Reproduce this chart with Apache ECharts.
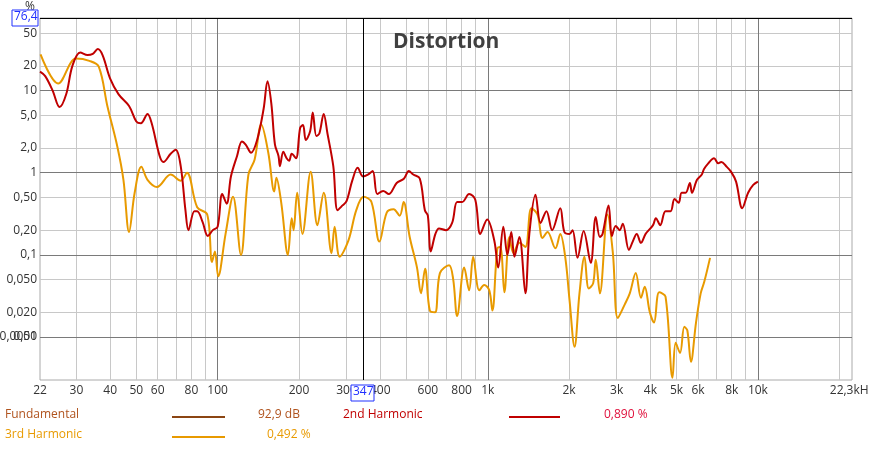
<!DOCTYPE html>
<html>
<head>
<meta charset="utf-8">
<title>Distortion</title>
<script src="https://cdn.jsdelivr.net/npm/echarts@6/dist/echarts.min.js"></script>
<style>
  html, body { margin: 0; padding: 0; background: #fff; }
  #main { width: 869px; height: 453px; }
</style>
</head>
<body>
<div id="main"></div>
<script>
// 2nd harmonic, [Hz, %]
var h2 = [[22,17],[23,15],[24.5,10],[26,6.3],[27.5,9],[29,20],[31,29],[33,27],[34.5,28],[36,32],[37.5,27],[40,14],[43,9],[47,6.5],[50,4.2],[52,4],[55,5.2],[57,4],[61,1.6],[63,1.35],[67,1.7],[70,1.9],[73,1.2],[76,0.35],[78,0.2],[82,0.34],[84,0.34],[88,0.25],[92,0.17],[96,0.2],[100,0.22],[104,0.55],[108,0.42],[112,0.9],[118,1.6],[123,2.4],[127,2.2],[133,1.75],[140,2.5],[148,6],[153,13],[158,7],[163,2.2],[168,1.6],[170,1.2],[175,1.8],[180,1.5],[184,1.4],[188,1.7],[195,1.5],[202,3.5],[207,3.8],[212,2.5],[220,3.2],[225,5.4],[232,2.8],[238,3],[247,5.2],[255,3],[268,1.2],[278,0.35],[290,0.4],[300,0.45],[315,0.8],[330,1.15],[345,0.9],[360,0.95],[375,1.05],[390,0.55],[410,0.6],[430,0.55],[460,0.75],[490,0.85],[510,1.05],[530,0.95],[560,0.85],[585,0.35],[600,0.3],[615,0.11],[640,0.18],[660,0.21],[700,0.2],[738,0.245],[770,0.44],[804,0.44],[853,0.55],[899,0.47],[938,0.18],[995,0.27],[1057,0.15],[1093,0.07],[1142,0.22],[1182,0.1],[1222,0.19],[1255,0.095],[1309,0.165],[1378,0.034],[1425,0.18],[1502,0.54],[1568,0.245],[1649,0.34],[1731,0.2],[1855,0.37],[1921,0.19],[2008,0.18],[2060,0.2],[2149,0.092],[2264,0.195],[2405,0.08],[2510,0.29],[2600,0.165],[2660,0.18],[2800,0.4],[2880,0.17],[2975,0.225],[3080,0.2],[3160,0.24],[3330,0.115],[3440,0.145],[3560,0.18],[3690,0.14],[3840,0.18],[4090,0.23],[4190,0.28],[4350,0.23],[4550,0.34],[4750,0.34],[4910,0.48],[5090,0.43],[5220,0.57],[5400,0.57],[5600,0.75],[5700,0.57],[5950,0.82],[6200,0.95],[6310,1.1],[6550,1.3],[6880,1.5],[7130,1.3],[7320,1.35],[7630,1.2],[7950,1.03],[8300,0.78],[8750,0.37],[9200,0.57],[9610,0.71],[10000,0.78]];

// 3rd harmonic, [Hz, %]
var h3 = [[22.1,27.5],[25.7,12.2],[29.9,24.5],[33.5,23],[36.3,19.5],[39.1,6.4],[42.5,2.1],[44.8,0.82],[47,0.19],[49.3,0.57],[52.2,1.18],[55,0.82],[59.6,0.67],[67,0.95],[73,0.8],[77,1.0],[84,0.38],[91.5,0.31],[95.3,0.082],[97.7,0.11],[100.5,0.055],[107,0.18],[114,0.51],[122,0.1],[130,0.95],[137,1.44],[145,3.85],[154,1.75],[162,0.59],[165,0.87],[172,0.43],[182,0.1],[188,0.28],[191,0.2],[197,0.57],[206,0.18],[221,1.03],[234,0.23],[247,0.57],[264,0.105],[271,0.22],[283,0.095],[305,0.15],[326,0.35],[347,0.51],[371,0.44],[397,0.145],[423,0.33],[448,0.36],[472,0.3],[488,0.44],[514,0.165],[547,0.07],[566,0.034],[586,0.068],[610,0.021],[638,0.02],[665,0.06],[719,0.075],[745,0.05],[770,0.018],[818,0.07],[853,0.037],[883,0.095],[930,0.037],[970,0.043],[1013,0.037],[1040,0.021],[1085,0.12],[1113,0.125],[1152,0.035],[1202,0.165],[1245,0.105],[1309,0.14],[1378,0.125],[1450,0.37],[1527,0.31],[1595,0.16],[1664,0.19],[1780,0.12],[1855,0.18],[1937,0.092],[2008,0.028],[2095,0.0076],[2185,0.034],[2280,0.095],[2365,0.039],[2455,0.045],[2510,0.087],[2600,0.034],[2775,0.31],[2905,0.105],[3030,0.017],[3215,0.025],[3355,0.034],[3530,0.06],[3690,0.03],[3810,0.041],[3980,0.02],[4125,0.015],[4310,0.035],[4550,0.031],[4830,0.0032],[4960,0.0085],[5150,0.0064],[5340,0.0133],[5480,0.012],[5650,0.005],[5900,0.015],[6140,0.034],[6330,0.047],[6650,0.092]];

var xMajor = [100, 1000, 10000];
var xMinor = [30,40,50,60,70,80,90,200,300,400,500,600,700,800,900,2000,3000,4000,5000,6000,7000,8000,9000,20000];
var xLabels = [[22,'22'],[30,'30'],[40,'40'],[50,'50'],[60,'60'],[80,'80'],[100,'100'],[200,'200'],[300,'300'],[400,'400'],[600,'600'],[800,'800'],[1000,'1k'],[2000,'2k'],[3000,'3k'],[4000,'4k'],[5000,'5k'],[6000,'6k'],[8000,'8k'],[10000,'10k'],[22300,'22,3kHz']];
var yMajor = [0.01, 0.1, 1, 10];
var yMinor = [0.005, 0.02, 0.05, 0.2, 0.5, 2, 5, 20, 50];
var yLabels = [[50,'50'],[20,'20'],[10,'10'],[5,'5,0'],[2,'2,0'],[1,'1'],[0.5,'0,50'],[0.2,'0,20'],[0.1,'0,1'],[0.05,'0,050'],[0.02,'0,020'],[0.01,'0,01'],[0.005,'0,0050']];
var cursorHz = 347;

var FONT = 'Open Sans';
var chart = echarts.init(document.getElementById('main'));

function vline(x, color) { return { xAxis: x, lineStyle: { color: color, width: 1, type: 'solid' }, label: { show: false } }; }
function hline(y, color) { return { yAxis: y, lineStyle: { color: color, width: 1, type: 'solid' }, label: { show: false } }; }

var gridLines = []
  .concat(xMinor.map(function (v) { return vline(v, '#c8c8c8'); }))
  .concat(yMinor.map(function (v) { return hline(v, '#c8c8c8'); }))
  .concat(xMajor.map(function (v) { return vline(v, '#7a7a7a'); }))
  .concat(yMajor.map(function (v) { return hline(v, '#7a7a7a'); }));

var tickLines = xLabels.map(function (t) {
  return { xAxis: t[0], lineStyle: { color: 'rgba(0,0,0,0)', width: 1 },
    label: { show: true, position: 'start', formatter: t[1], color: '#333', fontFamily: FONT, fontSize: 12, distance: 5 } };
}).concat(yLabels.map(function (t) {
  return { yAxis: t[0], lineStyle: { color: 'rgba(0,0,0,0)', width: 1 },
    label: { show: true, position: 'start', formatter: t[1], color: '#333', fontFamily: FONT, fontSize: 12, distance: 3 } };
}));

var option = {
  backgroundColor: '#fff',
  animation: false,
  grid: { left: 40, right: 17, top: 18, bottom: 73, show: true, borderColor: '#aaa', borderWidth: 1 },
  xAxis: { type: 'log', logBase: 10, min: 22, max: 22300,
    axisLine: { show: false }, axisTick: { show: false }, axisLabel: { show: false }, splitLine: { show: false } },
  yAxis: { type: 'log', logBase: 10, min: 0.003, max: 76.4,
    axisLine: { show: false }, axisTick: { show: false }, axisLabel: { show: false }, splitLine: { show: false } },
  title: { text: 'Distortion', left: 388, top: 27,
    textStyle: { fontFamily: FONT, fontWeight: 'bold', fontSize: 21, color: '#404040' } },
  series: [
    { type: 'line', data: [], silent: true,
      markLine: { silent: true, symbol: 'none', animation: false, z: 1, data: gridLines.concat(tickLines) } },
    { name: '3rd Harmonic', type: 'line', data: h3, showSymbol: false, smooth: 0.35, z: 3,
      lineStyle: { color: '#e89a00', width: 2 } },
    { name: '2nd Harmonic', type: 'line', data: h2, showSymbol: false, smooth: 0.35, z: 4,
      lineStyle: { color: '#c00000', width: 2 },
      markLine: { silent: true, symbol: 'none', animation: false,
        data: [
          { xAxis: cursorHz, lineStyle: { color: '#000', width: 1, type: 'solid' }, label: { show: false } },
          { yAxis: 76.4, lineStyle: { color: '#000', width: 1, type: 'solid' }, label: { show: false } }
        ] } }
  ],
  graphic: [
    { type: 'text', left: 25, top: 1, style: { text: '%', fill: '#333', font: '12px "Open Sans"' } },
    { type: 'rect', shape: { x: 12, y: 10, width: 26, height: 16 }, style: { fill: '#fff', stroke: '#2030ff', lineWidth: 1 } },
    { type: 'text', x: 14, y: 11, style: { text: '76,4', fill: '#2030ff', font: '12px "Open Sans"' } },
    { type: 'rect', z: 100, shape: { x: 351, y: 385, width: 23, height: 16 }, style: { fill: '#fff', stroke: '#2030ff', lineWidth: 1 } },
    { type: 'text', z: 101, x: 353, y: 386, style: { text: '347', fill: '#2030ff', font: '12px "Open Sans"' } },

    { type: 'text', x: 5, y: 409, style: { text: 'Fundamental', fill: '#b0531e', font: '12px "Open Sans"' } },
    { type: 'line', shape: { x1: 172, y1: 417, x2: 225, y2: 417 }, style: { stroke: '#8b4513', lineWidth: 2 } },
    { type: 'text', x: 258, y: 409, style: { text: '92,9 dB', fill: '#b0531e', font: '12px "Open Sans"' } },
    { type: 'text', x: 343, y: 409, style: { text: '2nd Harmonic', fill: '#c00000', font: '12px "Open Sans"' } },
    { type: 'line', shape: { x1: 509, y1: 417, x2: 560, y2: 417 }, style: { stroke: '#c00000', lineWidth: 2 } },
    { type: 'text', x: 604, y: 409, style: { text: '0,890 %', fill: '#e0103c', font: '12px "Open Sans"' } },
    { type: 'text', x: 5, y: 429, style: { text: '3rd Harmonic', fill: '#e89a00', font: '12px "Open Sans"' } },
    { type: 'line', shape: { x1: 172, y1: 437, x2: 225, y2: 437 }, style: { stroke: '#e89a00', lineWidth: 2 } },
    { type: 'text', x: 267, y: 429, style: { text: '0,492 %', fill: '#e89a00', font: '12px "Open Sans"' } }
  ]
};

chart.setOption(option);
</script>
</body>
</html>
